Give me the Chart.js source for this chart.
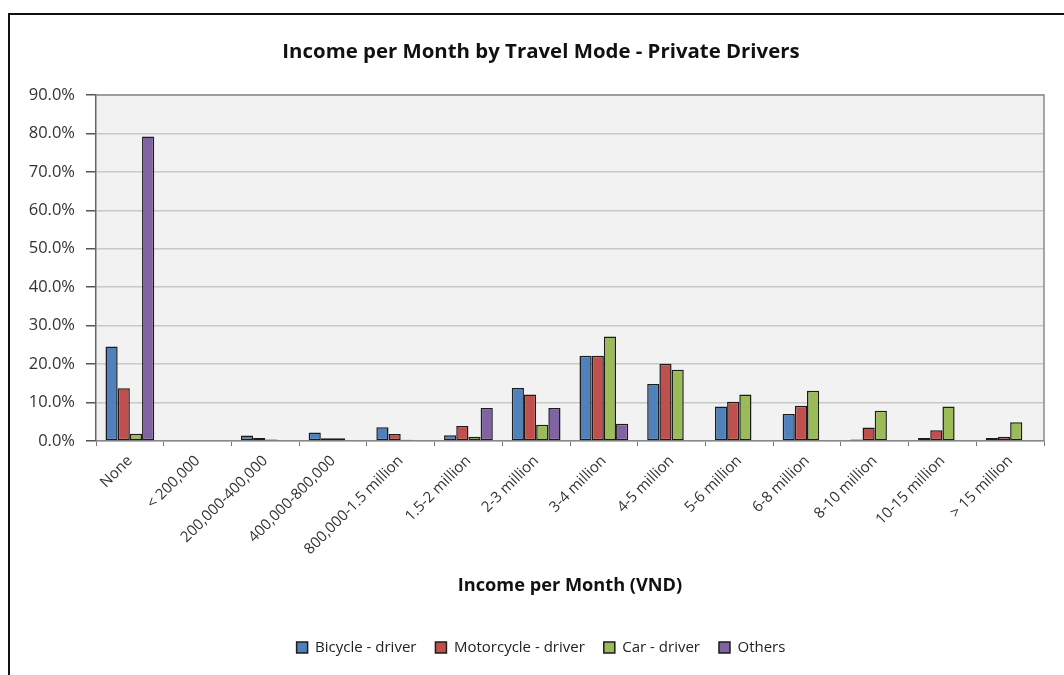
<!DOCTYPE html>
<html>
<head>
<meta charset="utf-8">
<script src="https://cdn.jsdelivr.net/npm/chart.js@4.4.1/dist/chart.umd.min.js"></script>
<style>
  html, body { margin: 0; padding: 0; background: #ffffff; }
  #wrap { width: 1064px; height: 675px; position: relative; }
</style>
</head>
<body>
<div id="wrap"><canvas id="c" width="1064" height="675"></canvas></div>
<script>
// Income brackets (VND per month)
const categories = [
  'None', '< 200,000', '200,000-400,000', '400,000-800,000', '800,000-1.5 million',
  '1.5-2 million', '2-3 million', '3-4 million', '4-5 million', '5-6 million',
  '6-8 million', '8-10 million', '10-15 million', '> 15 million'
];

// Share of respondents (%) in each bracket, by travel mode
const bicycleDriver    = [24.6, 0,   1.4, 2.2, 3.6, 1.5, 13.8, 22.2, 14.8, 9.0,  7.0, 0.4, 0.8, 0.8];
const motorcycleDriver = [13.7, 0.2, 0.8, 0.7, 1.8, 3.9, 12.1, 22.2, 20.1, 10.2, 9.2, 3.5, 2.8, 1.1];
const carDriver        = [1.9,  0,   0.4, 0.7, 0.3, 1.1, 4.2,  27.2, 18.5, 12.1, 13.1, 7.9, 9.0, 4.9];
const others           = [79.2, 0,   0,   0,   0,   8.6, 8.6,  4.5,  0,    0,    0,    0,   0,   0];

const seriesNames = ['Bicycle - driver', 'Motorcycle - driver', 'Car - driver', 'Others'];

// Y axis range and step (%)
const yMin = 0, yMax = 90, yStep = 10;

const FONT = "'Open Sans', 'Noto Sans', sans-serif";

const frameAndPlot = {
  id: 'frameAndPlot',
  beforeDraw(chart) {
    const { ctx, chartArea: a } = chart;
    ctx.save();
    ctx.fillStyle = '#ffffff';
    ctx.fillRect(0, 0, chart.width, chart.height);
    // outer chart frame
    ctx.strokeStyle = '#111111';
    ctx.lineWidth = 2;
    ctx.beginPath();
    ctx.moveTo(9, chart.height);
    ctx.lineTo(9, 14);
    ctx.lineTo(chart.width, 14);
    ctx.stroke();
    // plot area fill
    ctx.fillStyle = '#f2f2f2';
    ctx.fillRect(a.left, a.top, a.right - a.left, a.bottom - a.top);
    ctx.restore();
  },
  beforeDatasetsDraw(chart) {
    const { ctx, chartArea: a } = chart;
    ctx.save();
    ctx.strokeStyle = '#8a8a8a';
    ctx.lineWidth = 1.5;
    ctx.beginPath();
    ctx.moveTo(a.left, a.top);
    ctx.lineTo(a.right, a.top);
    ctx.lineTo(a.right, a.bottom);
    ctx.stroke();
    ctx.restore();
  }
};

const colors = ['#4f81bd', '#c0504d', '#9bbb59', '#8064a2'];
const values = [bicycleDriver, motorcycleDriver, carDriver, others];

new Chart(document.getElementById('c'), {
  type: 'bar',
  data: {
    labels: categories,
    datasets: values.map((v, i) => ({
      label: seriesNames[i],
      data: v,
      backgroundColor: colors[i],
      borderColor: '#1c1c1c',
      borderWidth: 1.5,
      borderSkipped: false,
      categoryPercentage: 0.72,
      barPercentage: 1.0
    }))
  },
  options: {
    responsive: false,
    animation: false,
    layout: { padding: { left: 18, right: 0, top: 0, bottom: 10 } },
    plugins: {
      title: {
        display: true,
        text: 'Income per Month by Travel Mode - Private Drivers',
        color: '#111111',
        font: { family: FONT, size: 20.4, weight: 'bold' },
        padding: { top: 39.8, bottom: 30.7 }
      },
      legend: {
        position: 'bottom',
        labels: {
          boxWidth: 11,
          boxHeight: 11,
          padding: 19,
          color: '#222222',
          font: { family: FONT, size: 15 }
        }
      },
      tooltip: { enabled: false }
    },
    scales: {
      x: {
        grid: {
          display: true,
          drawOnChartArea: false,
          drawTicks: true,
          tickLength: 5,
          tickColor: '#777777',
          offset: true
        },
        border: { color: '#888888', width: 1.5 },
        ticks: {
          color: '#333333',
          font: { family: FONT, size: 15 },
          minRotation: 45,
          maxRotation: 45,
          padding: 6,
          autoSkip: false
        },
        title: {
          display: true,
          text: 'Income per Month (VND)',
          color: '#111111',
          font: { family: FONT, size: 18.2, weight: 'bold' },
          padding: { top: 0, bottom: 24 }
        },
        afterFit(scale) { scale.height = 180; }
      },
      y: {
        min: yMin,
        max: yMax,
        ticks: {
          stepSize: yStep,
          color: '#333333',
          font: { family: FONT, size: 16.5 },
          padding: 11,
          callback: v => Number(v).toFixed(1) + '%'
        },
        grid: {
          color: '#c8c8c8',
          lineWidth: 1.5,
          tickColor: '#555555',
          tickLength: 10
        },
        border: { color: '#666666', width: 1.5 },
        afterFit(scale) { scale.width = 78; }
      },
      // empty spacer on the right so the plot ends short of the canvas edge
      spacer: {
        type: 'linear',
        position: 'right',
        display: true,
        grid: { display: false, drawTicks: false },
        border: { display: false },
        ticks: { display: false },
        afterFit(scale) { scale.width = 20; }
      }
    }
  },
  plugins: [frameAndPlot]
});
</script>
</body>
</html>
